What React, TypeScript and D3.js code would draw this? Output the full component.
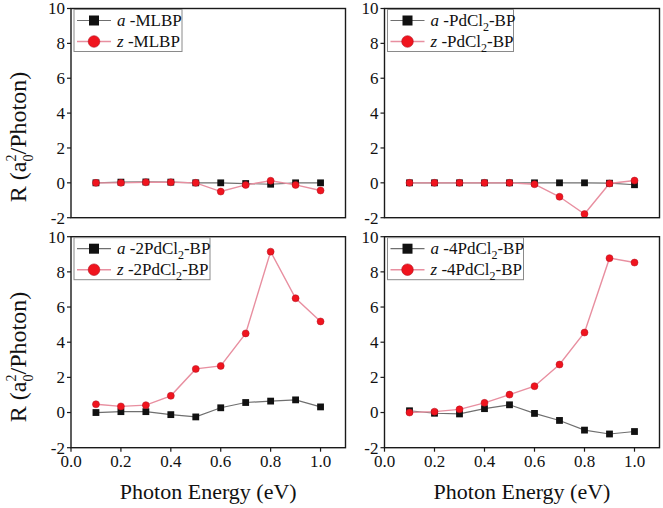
import React from "react";
import * as d3 from "d3";

const energies = [0.1, 0.2, 0.3, 0.4, 0.5, 0.6, 0.7, 0.8, 0.9, 1.0];
const yTicks = [-2, 0, 2, 4, 6, 8, 10];
const xTicks = [0.0, 0.2, 0.4, 0.6, 0.8, 1.0];

const aMLBP = [0, 0.04, 0.05, 0.04, 0, 0, -0.04, -0.08, 0, 0];
const zMLBP = [0, 0, 0.03, 0.03, 0, -0.5, -0.12, 0.12, -0.12, -0.44];
const aPd1 = [0, 0, 0, 0, 0, 0, 0, 0, -0.02, -0.11];
const zPd1 = [0, 0, 0, 0, 0, -0.08, -0.8, -1.79, -0.04, 0.13];
const aPd2 = [0, 0.05, 0.05, -0.12, -0.25, 0.27, 0.57, 0.65, 0.72, 0.32];
const zPd2 = [0.47, 0.35, 0.42, 0.95, 2.48, 2.65, 4.5, 9.15, 6.5, 5.18];
const aPd4 = [0.1, -0.04, -0.08, 0.22, 0.44, -0.05, -0.45, -1.0, -1.22, -1.08];
const zPd4 = [0.0, 0.05, 0.18, 0.55, 1.02, 1.5, 2.73, 4.55, 8.78, 8.53];

const legendNames = ["MLBP", "PdCl2-BP", "2PdCl2-BP", "4PdCl2-BP"];

const FONT = "Liberation Serif, Tinos, DejaVu Serif, serif";
const LINE_A = "#6f6f6f";
const LINE_Z = "#e88fa0";
const MARK_Z = "#f0141e";

type PanelProps = {
  x0: number; x1: number; y0: number; y1: number;
  a: number[]; z: number[]; name: string; showX: boolean;
  legendW: number;
};

function Label({ name }: { name: string }) {
  const parts = name.split("Cl2");
  if (parts.length === 1) return <tspan>{name}</tspan>;
  return (
    <>
      <tspan>{parts[0]}Cl</tspan>
      <tspan dy={5} style={{ fontSize: 12 }}>2</tspan>
      <tspan dy={-5}>{parts[1]}</tspan>
    </>
  );
}

function Panel({ x0, x1, y0, y1, a, z, name, showX, legendW }: PanelProps) {
  const xs = d3.scaleLinear().domain([0, 1.1]).range([x0, x1]);
  const ys = d3.scaleLinear().domain([-2, 10]).range([y1, y0]);
  const line = d3.line<number>().x((_, i) => xs(energies[i])).y((d) => ys(d));
  const lx = x0 + 3;
  const ly = y0 + 1;
  const lh = 42;
  const ts = { fontFamily: FONT, fontSize: 17 };
  return (
    <g>
      <path d={line(a) || ""} fill="none" stroke={LINE_A} strokeWidth={1.2} />
      <path d={line(z) || ""} fill="none" stroke={LINE_Z} strokeWidth={1.4} />
      {a.map((v, i) => (
        <rect key={"a" + i} x={xs(energies[i]) - 3.4} y={ys(v) - 3.4} width={6.8} height={6.8} fill="#111" />
      ))}
      {z.map((v, i) => (
        <circle key={"z" + i} cx={xs(energies[i])} cy={ys(v)} r={3.5} fill={MARK_Z} stroke="#b01020" strokeWidth={0.5} />
      ))}
      <rect x={x0} y={y0} width={x1 - x0} height={y1 - y0} fill="none" stroke="#1a1a1a" strokeWidth={1.4} />
      {yTicks.map((t) => (
        <g key={"y" + t}>
          <line x1={x0 - 4} x2={x0} y1={ys(t)} y2={ys(t)} stroke="#1a1a1a" strokeWidth={1.2} />
          <text x={x0 - 6} y={ys(t)} dy="0.35em" textAnchor="end" style={ts} fill="#111">
            {t}
          </text>
        </g>
      ))}
      {showX &&
        xTicks.map((t) => (
          <g key={"x" + t}>
            <line x1={xs(t)} x2={xs(t)} y1={y1} y2={y1 + 4} stroke="#1a1a1a" strokeWidth={1.2} />
            <text x={xs(t)} y={y1 + 19} textAnchor="middle" style={ts} fill="#111">
              {t.toFixed(1)}
            </text>
          </g>
        ))}
      <rect x={lx} y={ly} width={legendW} height={lh} fill="#fff" stroke="#8a8a8a" strokeWidth={1} />
      <line x1={lx + 3} x2={lx + 37} y1={ly + 11} y2={ly + 11} stroke={LINE_A} strokeWidth={1.2} />
      <rect x={lx + 20 - 5} y={ly + 11 - 5} width={10} height={10} fill="#111" />
      <line x1={lx + 3} x2={lx + 37} y1={ly + 32} y2={ly + 32} stroke={LINE_Z} strokeWidth={1.4} />
      <circle cx={lx + 20} cy={ly + 32} r={5.8} fill={MARK_Z} stroke="#b01020" strokeWidth={0.6} />
      <text x={lx + 43} y={ly + 16} style={ts} fill="#111">
        <tspan fontStyle="italic">a</tspan>
        <tspan> -</tspan>
        <Label name={name} />
      </text>
      <text x={lx + 43} y={ly + 37} style={ts} fill="#111">
        <tspan fontStyle="italic">z</tspan>
        <tspan> -</tspan>
        <Label name={name} />
      </text>
    </g>
  );
}

function YTitle({ cx, cy }: { cx: number; cy: number }) {
  return (
    <text transform={`translate(${cx},${cy}) rotate(-90)`} textAnchor="middle" style={{ fontFamily: FONT, fontSize: 24 }} fill="#111">
      <tspan>R (a</tspan>
      <tspan dy={7} style={{ fontSize: 14 }}>0</tspan>
      <tspan dy={-17} dx={-7} style={{ fontSize: 14 }}>2</tspan>
      <tspan dy={10}>/Photon)</tspan>
    </text>
  );
}

export default function App() {
  const L = [71, 345.5];
  const R = [384.5, 659.5];
  const T = [8.5, 217.7];
  const B = [236.7, 447.7];
  const xt = { fontFamily: FONT, fontSize: 22 };
  return (
    <svg width={663} height={508} style={{ position: "absolute", left: 0, top: 0, background: "#fff" }}>
      <rect width={663} height={508} fill="#fff" />
      <Panel x0={L[0]} x1={L[1]} y0={T[0]} y1={T[1]} a={aMLBP} z={zMLBP} name={legendNames[0]} showX={false} legendW={108} />
      <Panel x0={R[0]} x1={R[1]} y0={T[0]} y1={T[1]} a={aPd1} z={zPd1} name={legendNames[1]} showX={false} legendW={126} />
      <Panel x0={L[0]} x1={L[1]} y0={B[0]} y1={B[1]} a={aPd2} z={zPd2} name={legendNames[2]} showX={true} legendW={136} />
      <Panel x0={R[0]} x1={R[1]} y0={B[0]} y1={B[1]} a={aPd4} z={zPd4} name={legendNames[3]} showX={true} legendW={136} />
      <YTitle cx={26} cy={137} />
      <YTitle cx={26} cy={357} />
      <text x={(L[0] + L[1]) / 2} y={499} textAnchor="middle" style={xt} fill="#111">Photon Energy (eV)</text>
      <text x={(R[0] + R[1]) / 2} y={499} textAnchor="middle" style={xt} fill="#111">Photon Energy (eV)</text>
    </svg>
  );
}
